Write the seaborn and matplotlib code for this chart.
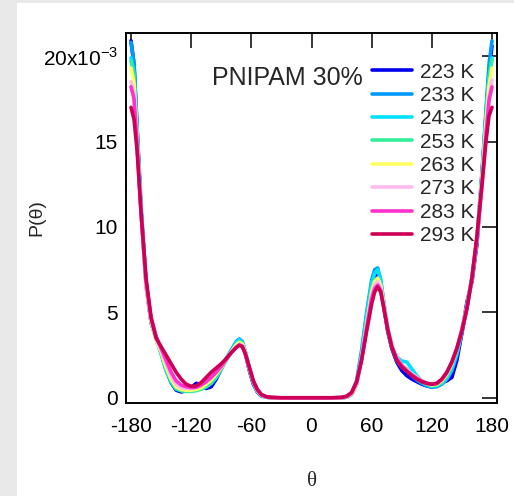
import numpy as np
import pandas as pd
import matplotlib
matplotlib.use("Agg")
import matplotlib.pyplot as plt
import seaborn as sns
from matplotlib.lines import Line2D

theta = [-180, -177, -174, -170, -165, -160, -155, -150, -145, -140, -135, -130,
         -125, -120, -115, -110, -105, -100, -95, -90, -85, -80, -75, -72,
         -69, -66, -62, -58, -54, -50, -45, -40, -30, -20, -10, 0,
         10, 20, 30, 35, 40, 45, 50, 55, 60, 63, 66, 69,
         72, 76, 80, 85, 90, 95, 100, 105, 110, 115, 120, 125,
         130, 135, 140, 145, 150, 155, 160, 165, 170, 174, 177, 180]

temps = ["223 K", "233 K", "243 K", "253 K", "263 K", "273 K", "283 K", "293 K"]
colors = ["#0000ee", "#0099ff", "#00e0ff", "#33ee99", "#ffff66", "#ffbbee", "#ff33cc", "#cc0055"]

p223 = [20.9, 19.5, 15.8, 11.0, 6.6, 4.4, 3.5, 2.7, 1.7, 0.9, 0.45, 0.35,
        0.4, 0.6, 0.85, 0.75, 0.55, 0.65, 1.1, 1.7, 2.3, 2.7, 3.2, 3.35,
        3.2, 2.6, 1.6, 0.8, 0.35, 0.12, 0.04, 0.01, 0.0, 0.0, 0.0, 0.0,
        0.0, 0.0, 0.01, 0.04, 0.2, 0.8, 2.4, 4.6, 6.4, 7.0, 7.2, 6.6,
        5.4, 3.9, 2.9, 2.1, 1.6, 1.3, 1.1, 0.95, 0.8, 0.7, 0.65, 0.7,
        0.9, 1.0, 1.2, 2.2, 3.8, 5.6, 6.8, 9.0, 13.0, 16.5, 19.0, 20.6]
p233 = [20.8, 19.6, 16.0, 11.2, 6.8, 4.5, 3.6, 2.6, 1.6, 0.9, 0.5, 0.42,
        0.4, 0.45, 0.5, 0.55, 0.65, 0.85, 1.2, 1.7, 2.3, 2.8, 3.3, 3.45,
        3.3, 2.7, 1.7, 0.85, 0.35, 0.12, 0.04, 0.01, 0.0, 0.0, 0.0, 0.0,
        0.0, 0.0, 0.01, 0.05, 0.25, 1.0, 2.8, 5.0, 6.9, 7.5, 7.6, 6.9,
        5.6, 4.0, 3.0, 2.2, 1.8, 1.6, 1.3, 1.05, 0.85, 0.7, 0.62, 0.65,
        0.8, 1.1, 1.6, 2.5, 3.8, 5.3, 7.0, 9.3, 13.2, 16.8, 19.5, 20.9]
p243 = [19.9, 19.0, 15.6, 11.0, 6.7, 4.5, 3.5, 2.6, 1.6, 0.95, 0.55, 0.45,
        0.42, 0.45, 0.5, 0.55, 0.65, 0.85, 1.2, 1.7, 2.25, 2.75, 3.25, 3.4,
        3.25, 2.7, 1.7, 0.9, 0.4, 0.15, 0.05, 0.01, 0.0, 0.0, 0.0, 0.0,
        0.0, 0.0, 0.01, 0.05, 0.22, 0.9, 2.6, 4.8, 6.7, 7.3, 7.5, 6.9,
        5.6, 4.1, 3.1, 2.4, 2.15, 2.1, 1.7, 1.3, 1.0, 0.8, 0.7, 0.72,
        0.85, 1.15, 1.7, 2.6, 3.9, 5.3, 7.0, 9.2, 13.0, 16.5, 18.8, 19.9]
p253 = [19.7, 18.8, 15.4, 10.9, 6.7, 4.5, 3.4, 2.6, 1.7, 1.0, 0.55, 0.42,
        0.38, 0.38, 0.42, 0.5, 0.65, 0.9, 1.25, 1.7, 2.2, 2.7, 3.1, 3.3,
        3.2, 2.7, 1.75, 0.95, 0.42, 0.16, 0.05, 0.01, 0.0, 0.0, 0.0, 0.0,
        0.0, 0.0, 0.01, 0.04, 0.2, 0.8, 2.4, 4.5, 6.4, 6.9, 7.0, 6.5,
        5.4, 4.0, 3.0, 2.3, 1.9, 1.7, 1.4, 1.15, 0.95, 0.78, 0.68, 0.72,
        0.9, 1.3, 1.9, 2.8, 4.0, 5.4, 7.1, 9.3, 13.0, 16.4, 18.6, 19.8]
p263 = [19.3, 18.4, 15.2, 10.8, 6.6, 4.5, 3.4, 2.7, 1.8, 1.1, 0.65, 0.5,
        0.45, 0.45, 0.5, 0.6, 0.8, 1.05, 1.4, 1.8, 2.25, 2.7, 3.1, 3.25,
        3.15, 2.65, 1.75, 0.95, 0.42, 0.16, 0.05, 0.01, 0.0, 0.0, 0.0, 0.0,
        0.0, 0.0, 0.01, 0.05, 0.22, 0.8, 2.3, 4.3, 6.2, 6.8, 7.0, 6.6,
        5.5, 4.1, 3.1, 2.35, 1.9, 1.65, 1.4, 1.2, 1.0, 0.85, 0.75, 0.8,
        1.0, 1.4, 2.0, 2.9, 4.0, 5.3, 7.0, 9.4, 12.8, 16.0, 18.2, 19.3]
p273 = [18.5, 17.8, 15.0, 10.8, 6.7, 4.6, 3.5, 2.8, 2.0, 1.3, 0.8, 0.6,
        0.55, 0.55, 0.6, 0.75, 0.95, 1.2, 1.5, 1.85, 2.25, 2.65, 3.0, 3.15,
        3.05, 2.6, 1.75, 0.95, 0.45, 0.17, 0.06, 0.02, 0.0, 0.0, 0.0, 0.0,
        0.0, 0.0, 0.01, 0.06, 0.25, 0.85, 2.3, 4.2, 6.0, 6.6, 6.8, 6.4,
        5.4, 4.1, 3.1, 2.35, 1.9, 1.65, 1.4, 1.2, 1.0, 0.85, 0.78, 0.82,
        1.05, 1.45, 2.05, 2.9, 4.0, 5.3, 7.0, 9.3, 12.6, 15.6, 17.6, 18.6]
p283 = [18.2, 17.5, 14.9, 10.8, 6.8, 4.7, 3.6, 2.9, 2.2, 1.5, 1.0, 0.75,
        0.65, 0.6, 0.62, 0.75, 0.95, 1.2, 1.5, 1.85, 2.25, 2.65, 2.95, 3.1,
        3.0, 2.55, 1.75, 0.95, 0.45, 0.18, 0.06, 0.02, 0.0, 0.0, 0.0, 0.0,
        0.0, 0.0, 0.02, 0.07, 0.28, 0.9, 2.3, 4.1, 5.8, 6.4, 6.6, 6.3,
        5.3, 4.0, 3.0, 2.3, 1.9, 1.6, 1.35, 1.15, 0.98, 0.85, 0.8, 0.85,
        1.08, 1.5, 2.1, 2.9, 4.0, 5.3, 7.0, 9.3, 12.4, 15.4, 17.4, 18.2]
p293 = [17.0, 16.3, 14.5, 10.9, 7.0, 4.7, 3.5, 3.0, 2.5, 2.0, 1.5, 1.1,
        0.8, 0.68, 0.7, 0.9, 1.2, 1.5, 1.75, 2.0, 2.3, 2.65, 2.95, 3.08,
        3.0, 2.6, 1.8, 1.0, 0.5, 0.2, 0.07, 0.03, 0.01, 0.01, 0.01, 0.01,
        0.01, 0.01, 0.03, 0.1, 0.32, 0.95, 2.2, 3.9, 5.5, 6.2, 6.5, 6.2,
        5.3, 4.0, 3.0, 2.2, 1.8, 1.55, 1.3, 1.1, 0.95, 0.85, 0.8, 0.85,
        1.1, 1.5, 2.1, 2.9, 3.9, 5.2, 7.0, 9.5, 12.5, 15.0, 16.5, 17.0]

series = [p223, p233, p243, p253, p263, p273, p283, p293]
for s in series:
    assert len(s) == len(theta)

ytick_vals = [0, 5, 10, 15, 20]
ytick_labels = ["0", "5", "10", "15", "20x10$^{-3}$"]
xtick_vals = [-180, -120, -60, 0, 60, 120, 180]

rows = []
for t, s in zip(temps, series):
    for th, v in zip(theta, s):
        rows.append({"theta": th, "P": v * 1e-3, "T": t})
df = pd.DataFrame(rows)

sns.set_style("white")
plt.rcParams["font.family"] = ["Liberation Sans", "DejaVu Sans"]
plt.rcParams["mathtext.fontset"] = "custom"
plt.rcParams["mathtext.rm"] = "Liberation Sans"

fig = plt.figure(figsize=(5.14, 4.96), dpi=100, facecolor="#e9e9e9")
bg = fig.add_axes([17 / 514, 0, 1 - 17 / 514, (496 - 3) / 496], zorder=-10)
bg.set_facecolor("white")
bg.set_xticks([])
bg.set_yticks([])
for sp in bg.spines.values():
    sp.set_visible(False)

ax = fig.add_axes([126 / 514, (496 - 403) / 496, (497 - 126) / 514, (403 - 33) / 496], zorder=1)
ax.set_facecolor("white")

sns.lineplot(data=df, x="theta", y="P", hue="T", palette=dict(zip(temps, colors)),
             linewidth=2.6, ax=ax, legend=False, sort=False, estimator=None)

ax.set_xlim(-185, 185)
ax.set_ylim(-0.3e-3, 21.35e-3)
ax.set_xticks(xtick_vals)
ax.set_xticklabels([str(v) for v in xtick_vals])
ax.set_yticks([v * 1e-3 for v in ytick_vals])
ax.set_yticklabels(ytick_labels)
ax.tick_params(direction="in", length=11, width=1.1, top=True, right=True,
               labelsize=15, colors="black", pad=6)
ax.tick_params(axis="x", pad=10)
for sp in ax.spines.values():
    sp.set_linewidth(1.4)
    sp.set_color("black")

ax.set_xlabel("θ", family=["Liberation Serif"], fontsize=15)
ax.xaxis.set_label_coords(0.5, -0.186)
ax.set_ylabel("P(θ)", fontsize=14)
ax.yaxis.set_label_coords(-0.218, 0.5)

handles = [Line2D([], [], color=c, lw=2.6) for c in colors]
ax.legend(handles, temps, loc="upper right", bbox_to_anchor=(0.939, 0.92), frameon=False,
          fontsize=15, handlelength=1.9, handletextpad=0.4, labelspacing=0.21,
          borderpad=0, borderaxespad=0)
ax.text(0.639, 0.878, "PNIPAM 30%", transform=ax.transAxes, fontsize=18,
        ha="right", va="center")

fig.savefig("out.png", dpi=100, facecolor=fig.get_facecolor())
